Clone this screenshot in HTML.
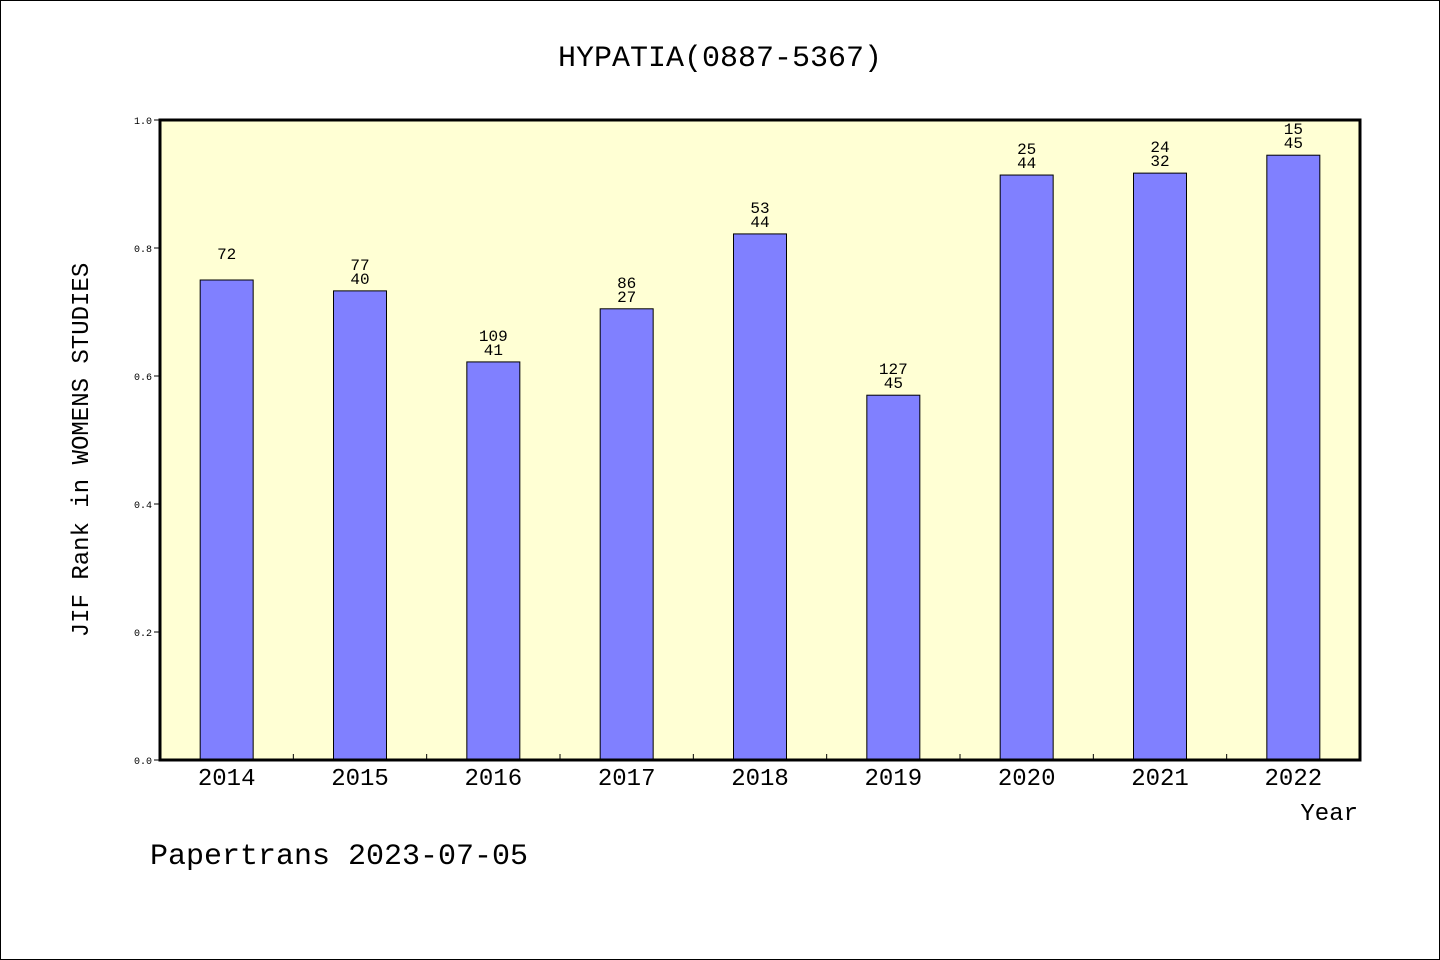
<!DOCTYPE html>
<html><head><meta charset="utf-8"><style>
body{margin:0;background:#fff;}
svg{display:block;font-family:"WenQuanYi Zen Hei","Liberation Mono",monospace;}
</style></head><body>
<svg id="c" width="1440" height="960">
<rect x="0.5" y="0.5" width="1439" height="959" fill="#fff" stroke="#000"/>
<text x="720" y="66" font-size="30" text-anchor="middle">HYPATIA(0887-5367)</text>
<rect x="160" y="120" width="1200" height="640" fill="#ffffd4"/>
<g id="bars"></g>
<rect x="160" y="120" width="1200" height="640" fill="none" stroke="#000" stroke-width="3"/>
<text transform="translate(88,450) rotate(-90)" font-size="24" text-anchor="middle">JIF Rank in WOMENS STUDIES</text>
<text x="1358" y="820" font-size="24" text-anchor="end">Year</text>
<text x="150" y="864" font-size="30">Papertrans 2023-07-05</text>
</svg>
<script>
const years=["2014","2015","2016","2017","2018","2019","2020","2021","2022"];
const values=[0.75,0.733,0.622,0.705,0.822,0.570,0.914,0.917,0.945];
const labelTop=["72","77","109","86","53","127","25","24","15"];
const labelBottom=["","40","41","27","44","45","44","32","45"];
const yTicks=[0,0.2,0.4,0.6,0.8,1.0];
const NS="http://www.w3.org/2000/svg";
const g=document.getElementById('bars');
const x0=160,w=1200,y0=760,h=640;
const step=w/years.length;
const X=i=>x0+step*(i+0.5);
const Y=v=>y0-v*h;
function mk(t,a,txt){const e=document.createElementNS(NS,t);for(const k in a)e.setAttribute(k,a[k]);if(txt!==undefined)e.textContent=txt;g.appendChild(e);return e;}
yTicks.forEach(t=>{
 const l=mk('line',{x1:154,x2:160,y1:Y(t),y2:Y(t),stroke:'#000'});
 
 
 const tx=mk('text',{x:152,y:Y(t)+4,'font-size':10,'text-anchor':'end'},t.toFixed(1));
 
 
});
for(let i=1;i<years.length;i++){
 const l=mk('line',{x1:x0+step*i,x2:x0+step*i,y1:y0,y2:y0-6,stroke:'#000'});
 
 
}
years.forEach((yr,i)=>{
 const bw=53;
 const r=mk('rect',{x:X(i)-bw/2,y:Y(values[i]),width:bw,height:values[i]*h,fill:'#8080ff',stroke:'#000','stroke-width':1});
 
 
 const xl=mk('text',{x:X(i),y:y0+25,'font-size':24,'text-anchor':'middle'},yr);
 
 
 const top=Y(values[i]);
 const a=mk('text',{x:X(i),y:top-21,'font-size':16,'text-anchor':'middle'},labelTop[i]);
 
 
 if(labelBottom[i]){
  const b=mk('text',{x:X(i),y:top-7,'font-size':16,'text-anchor':'middle'},labelBottom[i]);
  
  
 }
});
</script>
</body></html>
